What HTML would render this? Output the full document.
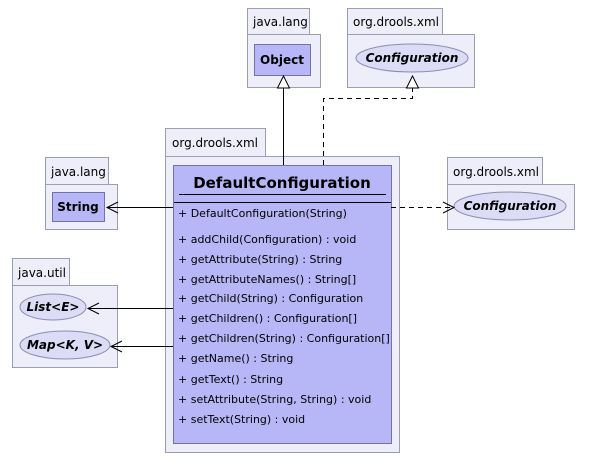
<!DOCTYPE html>
<html><head><style>body{margin:0;background:#fff}svg{display:block}text{font-family:"DejaVu Sans","Liberation Sans",sans-serif}</style></head><body>
<svg width="589" height="463" xmlns="http://www.w3.org/2000/svg">
<g fill="#eeeefa" stroke="#9d9db0" stroke-width="1">
<rect x="247.5" y="8.5" width="62" height="26"/><rect x="247.5" y="34.5" width="73" height="53"/>
<rect x="347.5" y="8.5" width="95" height="26"/><rect x="347.5" y="34.5" width="127" height="53"/>
<rect x="165.5" y="128.5" width="100" height="28"/><rect x="165.5" y="156.5" width="234" height="296"/>
<rect x="45.5" y="157.5" width="63" height="27"/><rect x="45.5" y="184.5" width="72" height="45"/>
<rect x="12.5" y="258.5" width="57" height="27"/><rect x="12.5" y="285.5" width="105" height="82"/>
<rect x="447.5" y="157.5" width="95" height="27"/><rect x="447.5" y="184.5" width="127" height="45"/>
</g>
<g font-size="12" fill="#000">
<text x="253" y="26">java.lang</text><text x="353" y="26">org.drools.xml</text>
<text x="172" y="147">org.drools.xml</text><text x="51" y="176">java.lang</text>
<text x="18" y="277">java.util</text><text x="453" y="176">org.drools.xml</text>
</g>
<g fill="#b7b7f8" stroke="#7272a8">
<rect x="254.5" y="44.5" width="56" height="31"/>
<rect x="52.5" y="192.5" width="52" height="29"/>
<rect x="173.5" y="165.5" width="218" height="278"/>
</g>
<g fill="#dcdcf6" stroke="#8c8cb0">
<ellipse cx="412" cy="58" rx="56" ry="14"/>
<ellipse cx="510" cy="206" rx="56" ry="14"/>
<ellipse cx="53" cy="307" rx="33" ry="13"/>
<ellipse cx="65" cy="345" rx="45" ry="14"/>
</g>
<g font-size="12" font-weight="bold" text-anchor="middle">
<text x="282" y="64">Object</text><text x="78" y="211">String</text>
<text font-style="italic" x="412" y="62">Configuration</text>
<text font-style="italic" x="510" y="210">Configuration</text>
<text font-style="italic" x="53" y="311">List&lt;E&gt;</text>
<text font-style="italic" x="65" y="349">Map&lt;K, V&gt;</text>
<text x="282" y="188" font-size="15">DefaultConfiguration</text>
</g>
<g stroke="#000"><line x1="179" y1="194.5" x2="386" y2="194.5"/><line x1="174" y1="202.5" x2="391" y2="202.5"/></g>
<g font-size="11">
<text x="178" y="217">+ DefaultConfiguration(String)</text>
<text x="178" y="243">+ addChild(Configuration) : void</text>
<text x="178" y="263">+ getAttribute(String) : String</text>
<text x="178" y="283">+ getAttributeNames() : String[]</text>
<text x="178" y="302">+ getChild(String) : Configuration</text>
<text x="178" y="322">+ getChildren() : Configuration[]</text>
<text x="178" y="342">+ getChildren(String) : Configuration[]</text>
<text x="178" y="362">+ getName() : String</text>
<text x="178" y="383">+ getText() : String</text>
<text x="178" y="403">+ setAttribute(String, String) : void</text>
<text x="178" y="423">+ setText(String) : void</text>
</g>
<g stroke="#000" fill="none">
<line x1="283.5" y1="165" x2="283.5" y2="88"/>
<polygon points="283.5,76 277.5,88 289.5,88" fill="#fff"/>
<polyline points="323.5,165 323.5,98.5 412.5,98.5 412.5,88" stroke-dasharray="5,4"/>
<polygon points="412.5,76 406.5,88 418.5,88" fill="#fff"/>
<line x1="173" y1="207.5" x2="107" y2="207.5"/>
<polyline points="118,202 107,207.5 118,213"/>
<line x1="391" y1="207.5" x2="453" y2="207.5" stroke-dasharray="5,4"/>
<polyline points="443,202 454,207.5 443,213"/>
<line x1="173" y1="308.5" x2="88" y2="308.5"/>
<polyline points="99,303 88,308.5 99,314"/>
<line x1="173" y1="346.5" x2="111" y2="346.5"/>
<polyline points="122,341 111,346.5 122,352"/>
</g>
</svg>
</body></html>
